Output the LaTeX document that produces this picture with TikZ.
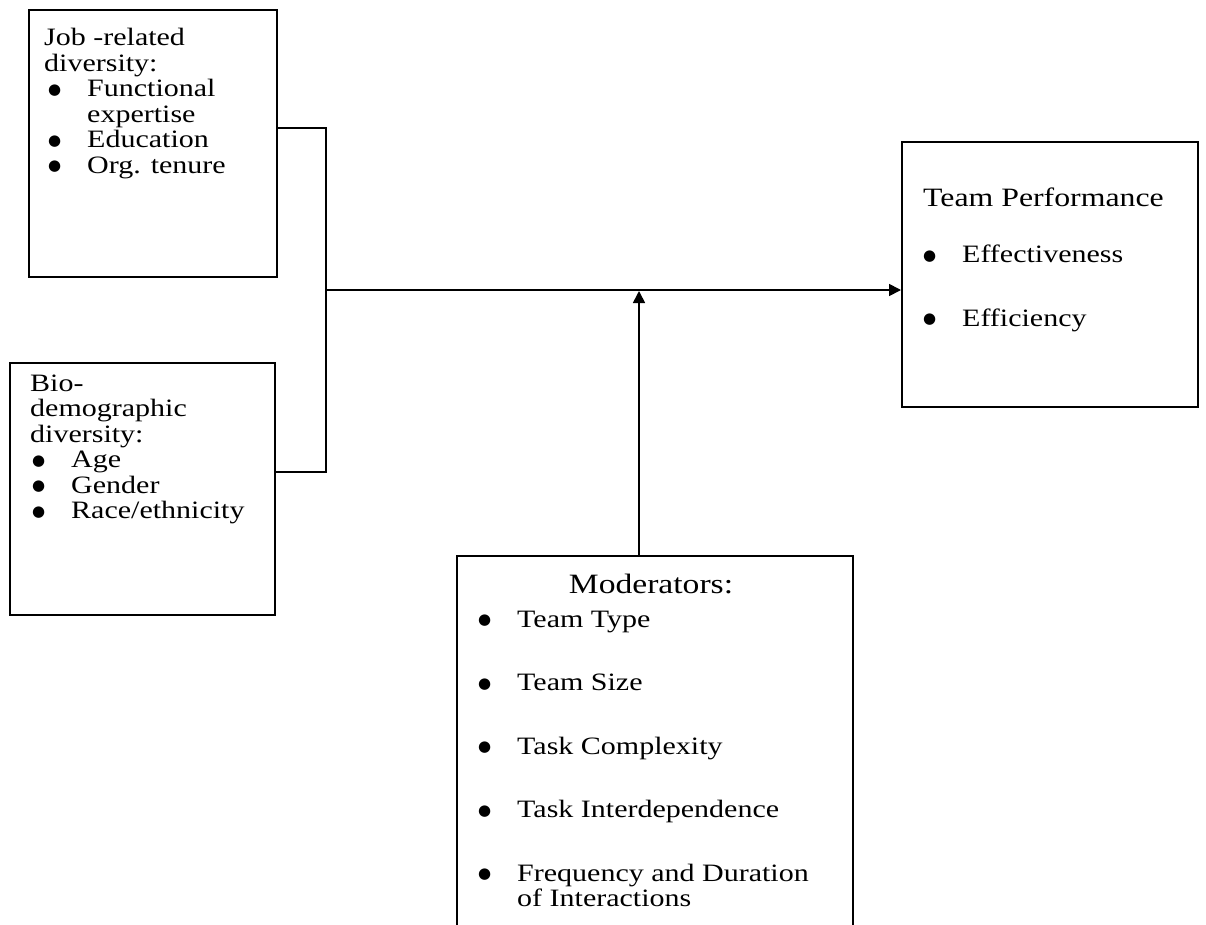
\documentclass[tikz,border=0pt]{standalone}
\usepackage{fontspec}
\setmainfont{Liberation Serif}[FakeStretch=1.2]
\newfontfamily\dotfont{DejaVu Sans}
\usepackage{tikz}
\usetikzlibrary{arrows.meta,positioning}

\newcommand{\bul}[1][0pt]{\hspace*{#1}\makebox[39pt][l]{\raisebox{2.5pt}{\dotfont\fontsize{15}{15}\selectfont ●}}}
\newcommand{\hang}[1][0pt]{\hspace*{\dimexpr #1+39pt\relax}}

\begin{document}
\begin{tikzpicture}
	[x=1pt,y=-1pt,>={Triangle[length=12pt,width=12pt]},
		box/.style={rectangle,draw,line width=2pt,inner sep=0pt},
		list/.style={anchor=north west,inner sep=0pt,align=left,font=\fontsize{25}{25.5}\selectfont},
		head/.style={inner sep=0pt,font=\fontsize{#1}{28}\selectfont},
		link/.style={line width=1.7pt}]

	\useasboundingbox (0,0) rectangle (1206,924);

	\node[box, minimum width=248pt, minimum height=267pt] (job)  at (153,143.5) {};
	\node[box, minimum width=265pt, minimum height=252pt] (bio)  at (142.5,489) {};
	\node[box, minimum width=296pt, minimum height=265pt] (perf) at (1050,274.5) {};
	\node[box, minimum width=396pt, minimum height=384pt] (mod)  at (655,748) {};

	\node[list] (jobtxt) at (44,28)
	{Job -related\\ diversity:\\ \bul[4pt]Functional\\ \hang[4pt]expertise\\ \bul[4pt]Education\\ \bul[4pt]Org. tenure};
	\node[list] (biotxt) at (30,374.5)
	{Bio-\\ demographic\\ diversity:\\ \bul[2pt]Age\\ \bul[2pt]Gender\\ \bul[2pt]Race/ethnicity};

	\node[head=26.5, anchor=base west] (perfhead) at (923,206) {Team Performance};
	\node[list] (perftxt) at (923,245)
	{\bul Effectiveness\\[38pt] \bul Efficiency};

	\node[head=28, anchor=base] (modhead) at (651,593) {Moderators:};
	\node[list] (modtxt) at (478,610.5)
	{\bul Team Type\\[38pt] \bul Team Size\\[38pt] \bul Task Complexity\\[38pt]
		\bul Task Interdependence\\[38pt] \bul Frequency and Duration\\ \hang of Interactions};

	\coordinate (jA)   at (326,128);
	\coordinate (jB)   at (326,472);
	\coordinate (hub)  at (326,290);
	\coordinate (meet) at (639,291);

	\draw[link] (job.east |- jA) -- (jA) -- (jB) -- (bio.east |- jB);
	\draw[link,->] (hub) -- (hub -| perf.west);
	\draw[link,->] (mod.north -| meet) -- (meet);

\end{tikzpicture}
\end{document}
